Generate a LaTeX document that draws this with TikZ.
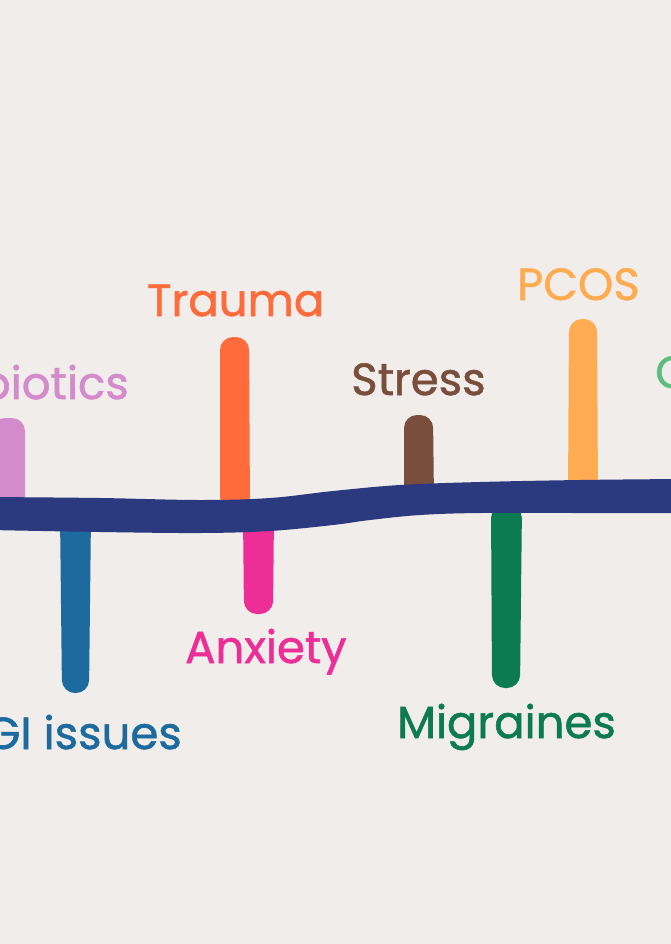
\documentclass[tikz,border=0pt]{standalone}
\usepackage{fontspec}
\setmainfont{Poppins}[FakeBold=1.2]
\definecolor{bg}{HTML}{F0EDEA}
\definecolor{band}{HTML}{2B3A7E}
\definecolor{cpink}{HTML}{D38BCB}
\definecolor{cblue}{HTML}{1D6A9F}
\definecolor{corange}{HTML}{FF6B3B}
\definecolor{cmagenta}{HTML}{EE2E97}
\definecolor{cbrown}{HTML}{7A4E3C}
\definecolor{cgreen}{HTML}{0D7B52}
\definecolor{cpeach}{HTML}{FFAB52}
\definecolor{clgreen}{HTML}{5DBD7E}
\tikzset{
  lbl/.style={inner sep=0pt, font=\fontsize{45}{50}\selectfont},
  tick/.style={rounded corners=13pt}
}
\begin{document}
\begin{tikzpicture}[x=1pt,y=-1pt]
\useasboundingbox (0,0) rectangle (671,944);
\fill[bg] (0,0) rectangle (671,944);
\clip (0,0) rectangle (671,944);
% ticks (behind band)
\fill[cpink,tick] (-8,512) -- (-8,418) -- (25,418) -- (25,512) -- cycle;
\fill[cblue,tick] (60,515) -- (62,693) -- (89,693) -- (91,515) -- cycle;
\fill[corange,tick] (220,510) -- (220,337) -- (249,337) -- (250,510) -- cycle;
\fill[cmagenta,tick] (243,515) -- (244,614) -- (273,614) -- (274,515) -- cycle;
\fill[cbrown,tick] (404,500) -- (404,415) -- (433,415) -- (434,500) -- cycle;
\fill[cgreen,tick] (491,505) -- (492,688) -- (520,688) -- (522,505) -- cycle;
\fill[cpeach,tick] (568,495) -- (569,319) -- (597,319) -- (598,495) -- cycle;
% band
\fill[band] plot[smooth, tension=0.6] coordinates {(-10,497) (100,498) (200,500) (270,498) (333,491) (400,485) (480,482) (580,480) (680,479)}
  -- plot[smooth, tension=0.6] coordinates {(680,513) (580,513) (480,513) (420,515) (370,520) (333,525) (270,531) (200,533) (100,532) (-10,530)} -- cycle;
% labels
\node[lbl, text=cpink, anchor=base east] (biotics) at (129,399) {biotics};
\node[lbl, text=corange, anchor=base west] (trauma) at (147,316) {Trauma};
\node[lbl, text=cbrown, anchor=base west] (stress) at (351,395) {Stress};
\node[lbl, text=cpeach, anchor=base west] (pcos) at (517,300) {PCOS};
\node[lbl, text=clgreen, anchor=base west] (c) at (655,388) {C};
\node[lbl, text=cblue, anchor=base east] (gi) at (182,749) {GI issues};
\node[lbl, text=cmagenta, anchor=base west] (anxiety) at (185,663) {Anxiety};
\node[lbl, text=cgreen, anchor=base west] (migraines) at (397,738) {Migraines};
\end{tikzpicture}
\end{document}
